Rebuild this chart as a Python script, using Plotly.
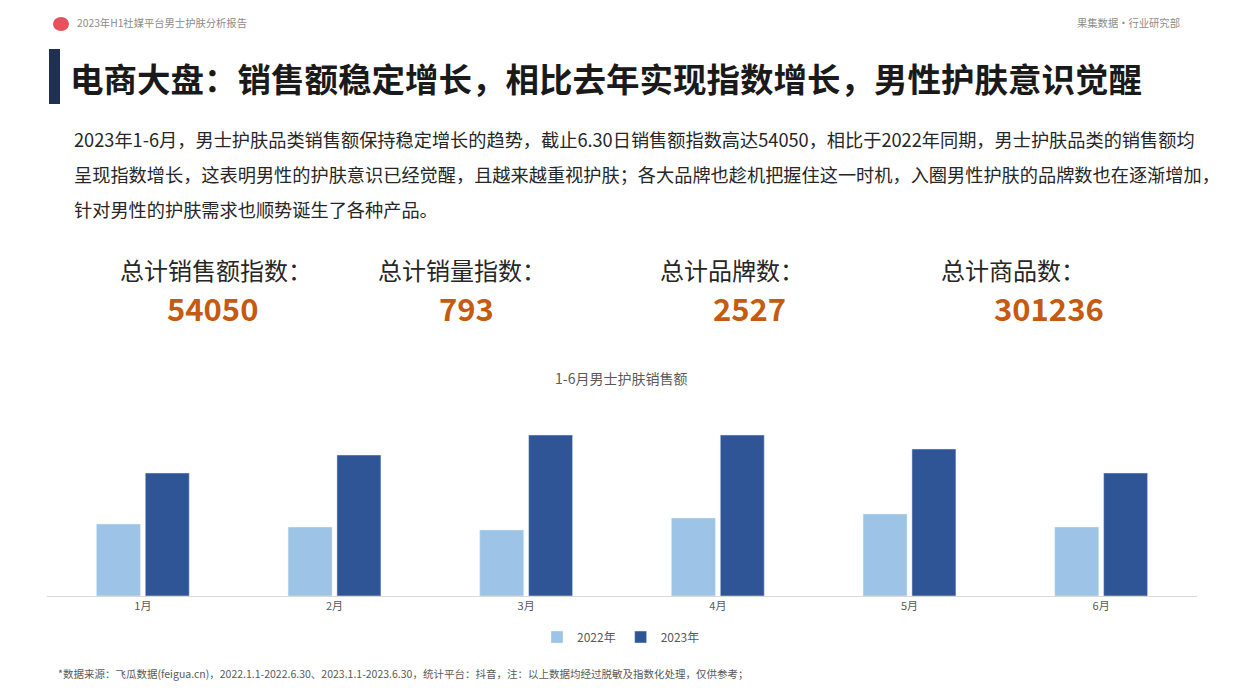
import plotly.graph_objects as go

W, H = 1240, 697
OFF = 8  # page body margin

months = ["1月", "2月", "3月", "4月", "5月", "6月"]
sales_2022 = [72, 69, 66, 78, 82, 69]
sales_2023 = [123, 141, 161, 161, 147, 123]

kpi_labels = ["总计销售额指数：", "总计销量指数：", "总计品牌数：", "总计商品数："]
kpi_values = ["54050", "793", "2527", "301236"]

FONT = "Noto Sans CJK SC"


def px(x, y):
    return (x - OFF) / W, 1 - (y - OFF) / H


fig = go.Figure()
fig.add_bar(x=months, y=sales_2022, name="2022年", marker_color="#9dc3e6")
fig.add_bar(x=months, y=sales_2023, name="2023年", marker_color="#2f5597")

ann = []


def text(x, y, s, size, color, anchor="left", bold=False):
    xx, yy = px(x, y)
    if bold:
        s = "<b>" + s + "</b>"
    ann.append(dict(x=xx, y=yy, xref="paper", yref="paper", text=s, showarrow=False,
                    xanchor=anchor, yanchor="middle",
                    font=dict(family=FONT, size=size, color=color)))


text(75, 23, "2023年H1社媒平台男士护肤分析报告", 10.3, "#8c8c8c")
text(1182, 23, "果集数据·行业研究部", 10.3, "#8c8c8c", anchor="right")
text(68, 77, "电商大盘：销售额稳定增长，相比去年实现指数增长，男性护肤意识觉醒", 33.5, "#1a1a1a", bold=True)
body = ["2023年1-6月，男士护肤品类销售额保持稳定增长的趋势，截止6.30日销售额指数高达54050，相比于2022年同期，男士护肤品类的销售额均",
        "呈现指数增长，这表明男性的护肤意识已经觉醒，且越来越重视护肤；各大品牌也趁机把握住这一时机，入圈男性护肤的品牌数也在逐渐增加，",
        "针对男性的护肤需求也顺势诞生了各种产品。"]
for i, line in enumerate(body):
    text(72, 139 + i * 35, line, 18.2, "#262626")
kx = [118, 376, 658, 939]
vx = [212, 466, 749, 1049]
for i in range(4):
    text(kx[i], 269, kpi_labels[i], 24, "#262626")
    text(vx[i], 307, kpi_values[i], 31, "#c55a11", anchor="center", bold=True)
text(621, 378, "1-6月男士护肤销售额", 14, "#595959", anchor="center")
text(56, 673, "*数据来源：飞瓜数据(feigua.cn)，2022.1.1-2022.6.30、2023.1.1-2023.6.30，统计平台：抖音，注：以上数据均经过脱敏及指数化处理，仅供参考；",
     10.5, "#595959")

shapes = [dict(type="rect", xref="paper", yref="paper", x0=px(49, 0)[0], x1=px(60, 0)[0],
               y0=px(0, 104)[1], y1=px(0, 49)[1], fillcolor="#1f3050", line_width=0),
          dict(type="circle", xref="paper", yref="paper", x0=px(53, 0)[0], x1=px(69, 0)[0],
               y0=px(0, 31)[1], y1=px(0, 17)[1], fillcolor="#e8505b", line_width=0)]

fig.update_layout(
    width=W, height=H, margin=dict(l=0, r=0, t=0, b=0),
    paper_bgcolor="white", plot_bgcolor="white",
    barmode="group", bargap=0.49, bargroupgap=0.1,
    font=dict(family=FONT),
    xaxis=dict(domain=[px(47, 0)[0], px(1197, 0)[0]], showline=True, linecolor="#d9d9d9", linewidth=1,
               tickfont=dict(size=11, color="#595959"), ticks=""),
    yaxis=dict(domain=[px(0, 596)[1], px(0, 416)[1]], range=[0, 180], visible=False),
    legend=dict(orientation="h", x=px(621, 0)[0], xanchor="center", y=px(0, 637)[1], yanchor="middle",
                font=dict(size=12, color="#595959"), itemwidth=30, tracegroupgap=0),
    annotations=ann, shapes=shapes,
)
fig.write_html("out.html")
